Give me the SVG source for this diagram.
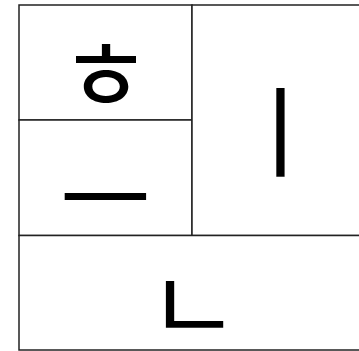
<svg xmlns="http://www.w3.org/2000/svg" width="359" height="351" viewBox="0 0 359 351">
<style>
.cell{fill:#fff;stroke:#222;stroke-width:1.5}
.j{font-family:"Noto Sans CJK KR","Noto Sans",sans-serif;font-size:100px;fill:#000;text-anchor:middle;dominant-baseline:central}
</style>
<rect width="359" height="351" fill="#fff"/>
<g id="n-h"><rect class="cell" x="19" y="5" width="173" height="115"/><text class="j" x="105.5" y="68">ㅎ</text></g>
<g id="n-eu"><rect class="cell" x="19" y="120" width="173" height="115.5"/><text class="j" x="105.5" y="191">ㅡ</text></g>
<g id="n-i"><rect class="cell" x="192" y="5" width="176" height="230.5"/><text class="j" x="280" y="125">ㅣ</text></g>
<g id="n-n"><rect class="cell" x="19" y="235.5" width="349" height="114.5"/><text class="j" x="193.5" y="298">ㄴ</text></g>
<g id="connectors"/>
</svg>
